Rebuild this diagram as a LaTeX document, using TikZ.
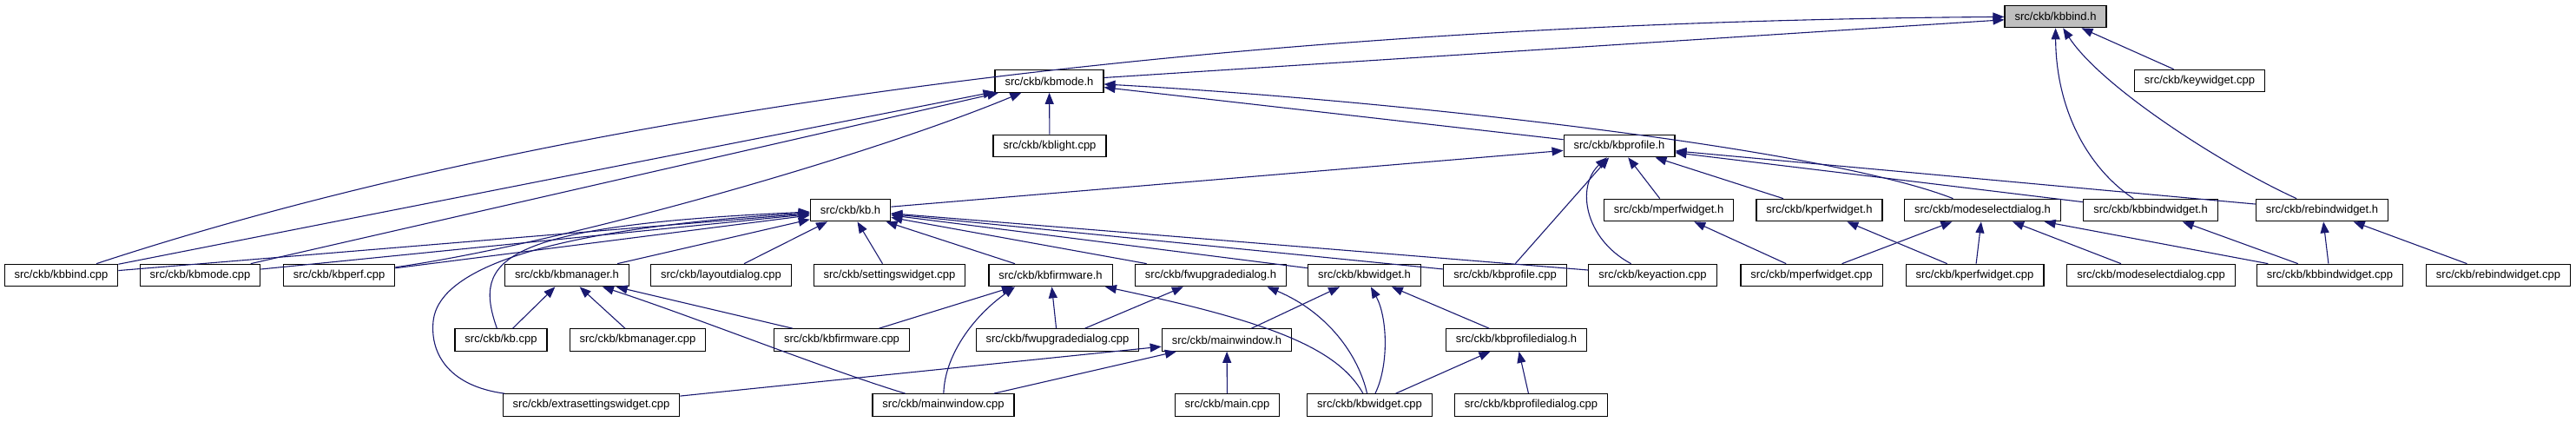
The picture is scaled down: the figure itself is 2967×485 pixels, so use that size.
\documentclass[tikz,border=0pt]{standalone}
\usepackage{fontspec}
\setmainfont{Liberation Sans}
\definecolor{edgeblue}{RGB}{25,25,112}
\definecolor{focusgray}{RGB}{191,191,191}
\usetikzlibrary{arrows.meta}

\begin{document}
\begin{tikzpicture}[x=1pt, y=-1pt,
    filebox/.style={draw=black, fill=white, line width=1.2pt, minimum height=25.5pt,
      inner xsep=11.5pt, inner ysep=0pt, font=\fontsize{13}{15}\selectfont},
    focus/.style={filebox, fill=focusgray},
    dep/.style={-{Triangle[length=13pt, width=10pt]}, edgeblue, line width=1.1pt},
  ]
    \useasboundingbox (0,0) rectangle (2967,485);

    % top levels
    \node[focus] (kbbindh) at (2367.5,19) {src/ckb/kbbind.h};
    \node[filebox] (kbmodeh) at (1208.5,93.5) {src/ckb/kbmode.h};
    \node[filebox] (keywidget) at (2533.5,93) {src/ckb/keywidget.cpp};
    \node[filebox] (kbprofileh) at (1865,168) {src/ckb/kbprofile.h};
    \node[filebox] (kblight) at (1209,168) {src/ckb/kblight.cpp};

    \node[filebox] (kbh) at (979.5,242) {src/ckb/kb.h};
    \node[filebox] (mperfwidgeth) at (1922,242) {src/ckb/mperfwidget.h};
    \node[filebox] (kperfwidgeth) at (2095.5,242) {src/ckb/kperfwidget.h};
    \node[filebox] (modeselectdialogh) at (2283.5,242) {src/ckb/modeselectdialog.h};
    \node[filebox] (kbbindwidgeth) at (2477,242) {src/ckb/kbbindwidget.h};
    \node[filebox] (rebindwidgeth) at (2674.5,242) {src/ckb/rebindwidget.h};

    \node[filebox] (kbbindcpp) at (70.5,317) {src/ckb/kbbind.cpp};
    \node[filebox] (kbmodecpp) at (230.5,317) {src/ckb/kbmode.cpp};
    \node[filebox] (kbperfcpp) at (390.5,317) {src/ckb/kbperf.cpp};
    \node[filebox] (kbmanagerh) at (653,317) {src/ckb/kbmanager.h};
    \node[filebox] (layoutdialog) at (830.5,317) {src/ckb/layoutdialog.cpp};
    \node[filebox] (settingswidget) at (1024.5,317) {src/ckb/settingswidget.cpp};
    \node[filebox] (kbfirmwareh) at (1210,317) {src/ckb/kbfirmware.h};
    \node[filebox] (fwupgradedialogh) at (1394.5,317) {src/ckb/fwupgradedialog.h};
    \node[filebox] (kbwidgeth) at (1571.5,317) {src/ckb/kbwidget.h};
    \node[filebox] (kbprofilecpp) at (1733.5,317) {src/ckb/kbprofile.cpp};
    \node[filebox] (keyaction) at (1903.5,317) {src/ckb/keyaction.cpp};
    \node[filebox] (mperfwidgetcpp) at (2086.5,317) {src/ckb/mperfwidget.cpp};
    \node[filebox] (kperfwidgetcpp) at (2274.5,317) {src/ckb/kperfwidget.cpp};
    \node[filebox] (modeselectdialogcpp) at (2477.5,317) {src/ckb/modeselectdialog.cpp};
    \node[filebox] (kbbindwidgetcpp) at (2683.5,317) {src/ckb/kbbindwidget.cpp};
    \node[filebox] (rebindwidgetcpp) at (2877.5,317) {src/ckb/rebindwidget.cpp};

    \node[filebox] (kbcpp) at (577,391.5) {src/ckb/kb.cpp};
    \node[filebox] (kbmanagercpp) at (734.5,391.5) {src/ckb/kbmanager.cpp};
    \node[filebox] (kbfirmwarecpp) at (969.5,391.5) {src/ckb/kbfirmware.cpp};
    \node[filebox] (fwupgradedialogcpp) at (1218,391.5) {src/ckb/fwupgradedialog.cpp};
    \node[filebox] (mainwindowh) at (1413,391.5) {src/ckb/mainwindow.h};
    \node[filebox] (kbprofiledialogh) at (1746.5,391.5) {src/ckb/kbprofiledialog.h};

    \node[filebox] (extrasettings) at (681,466.5) {src/ckb/extrasettingswidget.cpp};
    \node[filebox] (mainwindowcpp) at (1086.5,466.5) {src/ckb/mainwindow.cpp};
    \node[filebox] (maincpp) at (1413.5,466.5) {src/ckb/main.cpp};
    \node[filebox] (kbwidgetcpp) at (1577.5,466.5) {src/ckb/kbwidget.cpp};
    \node[filebox] (kbprofiledialogcpp) at (1763.5,466.5) {src/ckb/kbprofiledialog.cpp};

    % includes of kbbind.h
    \draw[dep] (kbmodeh) -- (kbbindh);
    \draw[dep] (kbbindcpp) .. controls (700,110) and (1500,25) .. (kbbindh);
    \draw[dep] (keywidget) -- (kbbindh);
    \draw[dep] (kbbindwidgeth) .. controls (2400,190) and (2368,120) .. (kbbindh);
    \draw[dep] (rebindwidgeth) .. controls (2560,190) and (2420,100) .. (kbbindh);

    % includes of kbmode.h
    \draw[dep] (kblight) -- (kbmodeh);
    \draw[dep] (kbbindcpp) -- (kbmodeh);
    \draw[dep] (kbmodecpp) -- (kbmodeh);
    \draw[dep] (kbperfcpp) .. controls (650,280) and (1000,180) .. (kbmodeh);
    \draw[dep] (kbprofileh) -- (kbmodeh);
    \draw[dep] (modeselectdialogh) .. controls (2100,170) and (1600,115) .. (kbmodeh);

    % includes of kbprofile.h
    \draw[dep] (kbh) -- (kbprofileh);
    \draw[dep] (kbprofilecpp) -- (kbprofileh);
    \draw[dep] (keyaction) .. controls (1825,275) and (1815,215) .. (kbprofileh);
    \draw[dep] (mperfwidgeth) -- (kbprofileh);
    \draw[dep] (kperfwidgeth) -- (kbprofileh);
    \draw[dep] (kbbindwidgeth) -- (kbprofileh);
    \draw[dep] (rebindwidgeth) -- (kbprofileh);

    % includes of kb.h
    \draw[dep] (kbbindcpp) -- (kbh);
    \draw[dep] (kbmodecpp) -- (kbh);
    \draw[dep] (kbperfcpp) -- (kbh);
    \draw[dep] (kbmanagerh) -- (kbh);
    \draw[dep] (layoutdialog) -- (kbh);
    \draw[dep] (settingswidget) -- (kbh);
    \draw[dep] (kbfirmwareh) -- (kbh);
    \draw[dep] (fwupgradedialogh) -- (kbh);
    \draw[dep] (kbwidgeth) -- (kbh);
    \draw[dep] (kbprofilecpp) -- (kbh);
    \draw[dep] (keyaction) -- (kbh);
    \draw[dep] (kbcpp) .. controls (545,300) and (570,260) .. (kbh);
    \draw[dep] (extrasettings) .. controls (520,445) and (495,410) .. (499,370)
      .. controls (503,330) and (560,268) .. (kbh);

    % includes of kbmanager.h
    \draw[dep] (kbcpp) -- (kbmanagerh);
    \draw[dep] (kbmanagercpp) -- (kbmanagerh);
    \draw[dep] (kbfirmwarecpp) -- (kbmanagerh);
    \draw[dep] (mainwindowcpp) .. controls (950,425) and (800,365) .. (kbmanagerh);

    % includes of kbfirmware.h and fwupgradedialog.h
    \draw[dep] (kbfirmwarecpp) -- (kbfirmwareh);
    \draw[dep] (fwupgradedialogcpp) -- (kbfirmwareh);
    \draw[dep] (mainwindowcpp) .. controls (1088,410) and (1120,365) .. ([xshift=-41pt]kbfirmwareh.south);
    \draw[dep] (kbwidgetcpp) .. controls (1540,400) and (1460,370) .. (kbfirmwareh);
    \draw[dep] (fwupgradedialogcpp) -- (fwupgradedialogh);
    \draw[dep] (kbwidgetcpp) .. controls (1565,410) and (1530,360) .. ([xshift=65pt]fwupgradedialogh.south);

    % includes of kbwidget.h, mainwindow.h, kbprofiledialog.h
    \draw[dep] (mainwindowh) -- (kbwidgeth);
    \draw[dep] (kbwidgetcpp) .. controls (1600,420) and (1598,365) .. (kbwidgeth);
    \draw[dep] (kbprofiledialogh) -- (kbwidgeth);
    \draw[dep] (extrasettings) -- (mainwindowh);
    \draw[dep] (mainwindowcpp) -- (mainwindowh);
    \draw[dep] (maincpp) -- (mainwindowh);
    \draw[dep] (kbwidgetcpp) -- (kbprofiledialogh);
    \draw[dep] (kbprofiledialogcpp) -- (kbprofiledialogh);

    % widget headers on the right
    \draw[dep] (mperfwidgetcpp) -- (mperfwidgeth);
    \draw[dep] (kperfwidgetcpp) -- (kperfwidgeth);
    \draw[dep] (mperfwidgetcpp) -- (modeselectdialogh);
    \draw[dep] (kperfwidgetcpp) -- (modeselectdialogh);
    \draw[dep] (modeselectdialogcpp) -- (modeselectdialogh);
    \draw[dep] (kbbindwidgetcpp) -- (modeselectdialogh);
    \draw[dep] (kbbindwidgetcpp) -- (kbbindwidgeth);
    \draw[dep] (kbbindwidgetcpp) -- (rebindwidgeth);
    \draw[dep] (rebindwidgetcpp) -- (rebindwidgeth);
  \end{tikzpicture}
\end{document}
